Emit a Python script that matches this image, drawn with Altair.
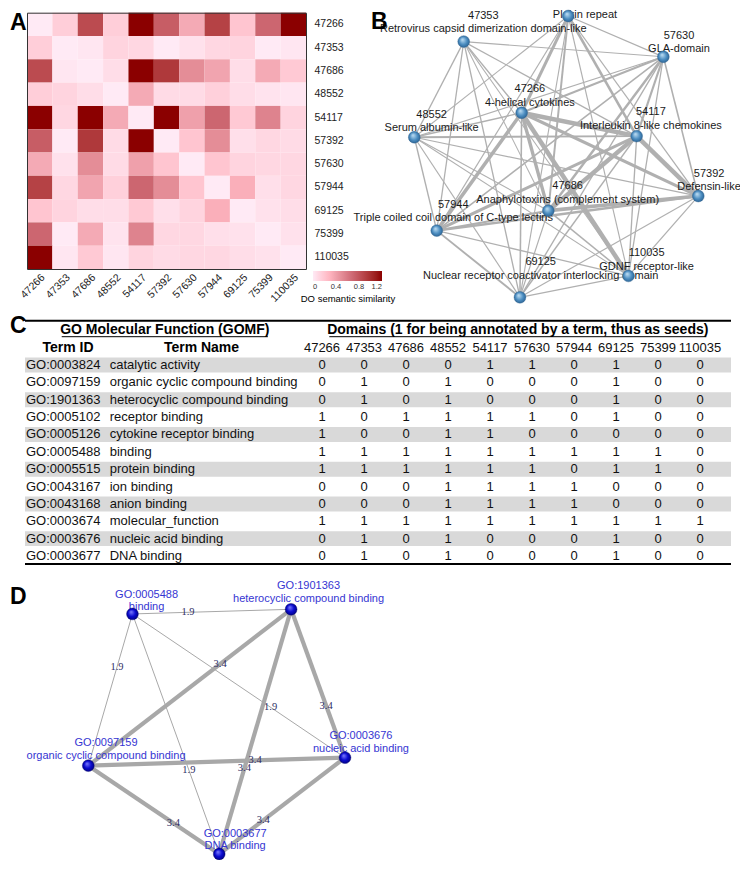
import altair as alt
import pandas as pd

W, H = 732, 852
SANS = "Liberation Sans"

# ---------------- Panel A / B : DO semantic similarity ----------------
domain_ids = ["47266", "47353", "47686", "48552", "54117", "57392",
              "57630", "57944", "69125", "75399", "110035"]
similarity = [
    [0.00, 0.15, 0.85, 0.15, 1.25, 0.75, 0.35, 0.90, 0.20, 0.70, 1.25],
    [0.15, 0.00, 0.02, 0.12, 0.10, 0.00, 0.05, 0.10, 0.12, 0.00, 0.02],
    [0.85, 0.02, 0.00, 0.07, 1.25, 0.95, 0.50, 0.38, 0.07, 0.35, 0.18],
    [0.15, 0.12, 0.07, 0.00, 0.35, 0.08, 0.08, 0.14, 0.07, 0.04, 0.02],
    [1.25, 0.10, 1.25, 0.35, 0.00, 1.25, 0.40, 0.70, 0.18, 0.55, 0.12],
    [0.75, 0.00, 0.95, 0.08, 1.25, 0.00, 0.20, 0.50, 0.06, 0.10, 0.08],
    [0.35, 0.05, 0.50, 0.08, 0.40, 0.20, 0.00, 0.20, 0.12, 0.10, 0.10],
    [0.90, 0.10, 0.38, 0.14, 0.70, 0.50, 0.20, 0.00, 0.32, 0.06, 0.10],
    [0.20, 0.12, 0.07, 0.07, 0.18, 0.06, 0.12, 0.32, 0.00, 0.05, 0.07],
    [0.70, 0.00, 0.35, 0.04, 0.55, 0.10, 0.10, 0.06, 0.05, 0.00, 0.05],
    [1.25, 0.02, 0.18, 0.02, 0.12, 0.08, 0.10, 0.10, 0.07, 0.05, 0.00],
]
domain_names = ["4-helical cytokines", "Retrovirus capsid dimerization domain-like",
                "Anaphylotoxins (complement system)", "Serum albumin-like",
                "Interleukin 8-like chemokines", "Defensin-like", "GLA-domain",
                "Triple coiled coil domain of C-type lectins",
                "Nuclear receptor coactivator interlocking domain", "Plakin repeat",
                "GDNF receptor-like"]
# normalised network layout (0..1) for panel B
b_node_x = [0.378, 0.174, 0.472, 0.000, 0.783, 1.000, 0.877, 0.079, 0.372, 0.542, 0.754]
b_node_y = [0.344, 0.091, 0.692, 0.431, 0.427, 0.640, 0.145, 0.763, 1.000, 0.000, 0.924]
b_label_x = [0.407, 0.243, 0.540, 0.061, 0.833, 1.038, 0.932, 0.137, 0.445, 0.601, 0.818]
b_label_y = [0.308, 0.047, 0.654, 0.399, 0.391, 0.609, 0.118, 0.719, 0.924, -0.005, 0.891]

# ---------------- Panel C : GOMF annotation table ----------------
table_domains = ["47266", "47353", "47686", "48552", "54117",
                 "57630", "57944", "69125", "75399", "110035"]
term_ids = ["GO:0003824", "GO:0097159", "GO:1901363", "GO:0005102", "GO:0005126",
            "GO:0005488", "GO:0005515", "GO:0043167", "GO:0043168", "GO:0003674",
            "GO:0003676", "GO:0003677"]
term_names = ["catalytic activity", "organic cyclic compound binding",
              "heterocyclic compound binding", "receptor binding",
              "cytokine receptor binding", "binding", "protein binding", "ion binding",
              "anion binding", "molecular_function", "nucleic acid binding", "DNA binding"]
annotated = [
    [0, 0, 0, 0, 1, 1, 0, 1, 0, 0],
    [0, 1, 0, 1, 0, 0, 0, 1, 0, 0],
    [0, 1, 0, 1, 0, 0, 0, 1, 0, 0],
    [1, 0, 1, 1, 1, 1, 0, 1, 0, 0],
    [1, 0, 0, 1, 1, 0, 0, 0, 0, 0],
    [1, 1, 1, 1, 1, 1, 1, 1, 1, 0],
    [1, 1, 1, 1, 1, 1, 0, 1, 1, 0],
    [0, 0, 0, 1, 1, 1, 1, 0, 0, 0],
    [0, 0, 0, 1, 1, 1, 1, 0, 0, 0],
    [1, 1, 1, 1, 1, 1, 1, 1, 1, 1],
    [0, 1, 0, 1, 0, 0, 0, 1, 0, 0],
    [0, 1, 0, 1, 0, 0, 0, 1, 0, 0],
]
header_text = ["GO Molecular Function (GOMF)",
               "Domains (1 for being annotated by a term, thus as seeds)",
               "Term ID", "Term Name"]
header_x = [0.198, 0.698, 0.061, 0.250]
header_row = [-2, -2, -1, -1]

# ---------------- Panel D : term network ----------------
d_terms = ["GO:0005488", "GO:1901363", "GO:0097159", "GO:0003676", "GO:0003677"]
d_names = ["binding", "heterocyclic compound binding", "organic cyclic compound binding",
           "nucleic acid binding", "DNA binding"]
d_node_x = [0.172, 0.790, 0.000, 1.000, 0.510]
d_node_y = [0.019, 0.000, 0.639, 0.606, 1.000]
d_label_x = [0.227, 0.858, 0.069, 1.062, 0.572]
d_label_y = [-0.008, -0.043, 0.598, 0.570, 0.968]
d_edge_source = ["GO:0005488", "GO:0005488", "GO:0003677", "GO:0003676", "GO:1901363",
                 "GO:0003677", "GO:0003676", "GO:0003676", "GO:0003677", "GO:0003677"]
d_edge_target = ["GO:1901363", "GO:0097159", "GO:0005488", "GO:0005488", "GO:0097159",
                 "GO:1901363", "GO:1901363", "GO:0097159", "GO:0097159", "GO:0003676"]
d_edge_weight = [1.9, 1.9, 1.9, 1.9, 3.4, 3.4, 3.4, 3.4, 3.4, 3.4]

panel_letters = ["A", "B", "C", "D"]


# ---------------- helpers ----------------
def lin(domain, rng):
    return alt.Scale(type="linear", domain=domain, range=rng, nice=False, zero=False)


BX, BY = lin([0, 1], [406.3, 690.3]), lin([0, 1], [8, 289.3])
TX, TY = lin([0, 1], [17, 723]), lin([0, 11], [357, 548])
DX, DY = lin([0, 1], [80.3, 337]), lin([0, 1], [601.3, 846])
PX, PY = lin([0, 748], [-8, 740]), lin([0, 876], [-8, 868])

# ---------------- dataframes ----------------
n = len(domain_ids)
heat_df = pd.DataFrame([{"row": domain_ids[i], "col": domain_ids[j], "value": similarity[i][j]}
                        for i in range(n) for j in range(n)])
b_nodes = pd.DataFrame({"id": domain_ids, "name": domain_names, "x": b_node_x, "y": b_node_y,
                        "lx": b_label_x, "ly": b_label_y})
b_edges = pd.DataFrame([{"x": b_node_x[i], "y": b_node_y[i], "x2": b_node_x[j],
                         "y2": b_node_y[j], "w": similarity[i][j]}
                        for i in range(n) for j in range(i + 1, n) if similarity[i][j] > 0])

t_rows = pd.DataFrame({"row": list(range(len(term_ids))), "tid": term_ids, "tname": term_names})
t_bands = t_rows[t_rows["row"] % 2 == 0].copy()
t_bands["y1"] = t_bands["row"] - 0.43
t_bands["y2"] = t_bands["row"] + 0.43
t_bands["x1"] = 0.0
t_bands["x2"] = 1.0
t_vals = pd.DataFrame([{"row": r, "dom": table_domains[c], "v": str(annotated[r][c])}
                       for r in range(len(term_ids)) for c in range(len(table_domains))])
t_cols = pd.DataFrame({"dom": table_domains, "row": -1})
t_head = pd.DataFrame({"text": header_text, "x": header_x, "row": header_row})
t_lines = pd.DataFrame({"x1": [0, 0, 0.052, 0.431], "x2": [1, 1, 0.344, 0.965],
                        "row": [-2.55, 11.46, -1.63, -1.63], "w": [2, 2, 1, 1]})

d_nodes = pd.DataFrame({"id": d_terms, "name": d_names, "x": d_node_x, "y": d_node_y,
                        "lx": d_label_x, "ly": d_label_y})
pos = {t: (d_node_x[k], d_node_y[k]) for k, t in enumerate(d_terms)}
d_edges = pd.DataFrame({"s": d_edge_source, "t": d_edge_target, "w": d_edge_weight})
d_edges["x"] = [pos[s][0] for s in d_edges["s"]]
d_edges["y"] = [pos[s][1] for s in d_edges["s"]]
d_edges["x2"] = [pos[t][0] for t in d_edges["t"]]
d_edges["y2"] = [pos[t][1] for t in d_edges["t"]]

letters_df = pd.DataFrame({"t": panel_letters, "x": [10, 371, 10, 10], "y": [23, 22, 326, 597]})

# ---------------- Panel A ----------------
heat_color = alt.Scale(domain=[0, 0.35, 0.7, 1.2],
                       range=["#ffffff", "#f4aab5", "#cc6670", "#8b0000"], clamp=True)
heat = alt.Chart(heat_df).mark_rect().encode(
    x=alt.X("col:N", scale=alt.Scale(type="band", domain=domain_ids, range=[19, 298],
                                     paddingInner=0, paddingOuter=0),
            axis=alt.Axis(orient="bottom", offset=261 - H, title=None, ticks=False,
                          labelAngle=-45, labelAlign="right", labelBaseline="top",
                          labelPadding=3, labelFontSize=10.5, labelFont=SANS,
                          labelColor="#222222", domainColor="#333333", grid=False,
                          labelOverlap=False)),
    y=alt.Y("row:N", scale=alt.Scale(type="band", domain=domain_ids, range=[4.7, 261],
                                     paddingInner=0, paddingOuter=0),
            axis=alt.Axis(orient="right", offset=298 - W, title=None, ticks=False,
                          labelPadding=8, labelFontSize=10.5, labelFont=SANS,
                          labelColor="#222222", domainColor="#333333", grid=False,
                          labelOverlap=False)),
    color=alt.Color("value:Q", scale=heat_color,
                    legend=alt.Legend(orient="none", legendX=293, legendY=263,
                                      direction="horizontal", gradientLength=69,
                                      gradientThickness=10, values=[0, 0.4, 0.8, 1.2],
                                      format=".1~f",
                                      labelFontSize=7.5, labelFont=SANS, labelColor="#333333",
                                      title="DO semantic similarity", titleOrient="bottom",
                                      titleFontSize=9.5, titleFont=SANS,
                                      titleFontWeight="normal", titleAnchor="middle",
                                      titlePadding=3, gradientStrokeWidth=0)),
)
frame = alt.Chart(heat_df).mark_rect(opacity=0).encode(
    x=alt.X("col:N", scale=alt.Scale(type="band", domain=domain_ids, range=[19, 298],
                                     paddingInner=0, paddingOuter=0),
            axis=alt.Axis(orient="top", offset=-4.7, title=None, ticks=False, labels=False,
                          domainColor="#333333", grid=False)),
    y=alt.Y("row:N", scale=alt.Scale(type="band", domain=domain_ids, range=[4.7, 261],
                                     paddingInner=0, paddingOuter=0),
            axis=alt.Axis(orient="left", offset=-19, title=None, ticks=False, labels=False,
                          domainColor="#333333", grid=False)),
)

# ---------------- Panel B ----------------
blue_sphere = alt.RadialGradient(
    gradient="radial", x1=0.38, y1=0.32, r1=0, x2=0.5, y2=0.5, r2=0.55,
    stops=[alt.GradientStop(offset=0, color="#c4e2f6"),
           alt.GradientStop(offset=0.6, color="#4a8cc0"),
           alt.GradientStop(offset=1, color="#2a5f8e")])
b_edge_layer = alt.Chart(b_edges).mark_rule(color="#b0b0b0").encode(
    x=alt.X("x:Q", scale=BX, axis=None), y=alt.Y("y:Q", scale=BY, axis=None),
    x2="x2:Q", y2="y2:Q",
    strokeWidth=alt.StrokeWidth("w:Q", scale=alt.Scale(domain=[0, 1.25], range=[1.0, 4.5]),
                                legend=None))
b_name_layer = alt.Chart(b_nodes).mark_text(font=SANS, fontSize=11, color="#1a1a1a",
                                            baseline="middle", align="center").encode(
    x=alt.X("lx:Q", scale=BX, axis=None), y=alt.Y("ly:Q", scale=BY, axis=None), text="name:N")
# the id line of a label lying on the panel's top edge falls outside the figure
b_id_layer = alt.Chart(b_nodes).transform_filter("datum.ly > 0.02").mark_text(
    font=SANS, fontSize=11, color="#1a1a1a", baseline="middle", align="center",
    dy=-13.5).encode(
    x=alt.X("lx:Q", scale=BX, axis=None), y=alt.Y("ly:Q", scale=BY, axis=None), text="id:N")
b_node_layer = alt.Chart(b_nodes).mark_circle(fill=blue_sphere, opacity=1, size=140,
                                              stroke="#2a5f8e", strokeWidth=0.4).encode(
    x=alt.X("x:Q", scale=BX, axis=None), y=alt.Y("y:Q", scale=BY, axis=None))

# ---------------- Panel C ----------------
c_bands = alt.Chart(t_bands).mark_rect(color="#d9d9d9").encode(
    x=alt.X("x1:Q", scale=TX, axis=None), x2="x2:Q",
    y=alt.Y("y1:Q", scale=TY, axis=None), y2="y2:Q")
c_lines = alt.Chart(t_lines).mark_rule(color="#000000").encode(
    x=alt.X("x1:Q", scale=TX, axis=None), x2="x2:Q",
    y=alt.Y("row:Q", scale=TY, axis=None),
    strokeWidth=alt.StrokeWidth("w:Q", scale=None, legend=None))
c_head = alt.Chart(t_head).mark_text(font=SANS, fontSize=14, fontWeight="bold",
                                     baseline="middle", align="center", color="#000000").encode(
    x=alt.X("x:Q", scale=TX, axis=None), y=alt.Y("row:Q", scale=TY, axis=None), text="text:N")
c_tid = alt.Chart(t_rows).mark_text(font=SANS, fontSize=13, baseline="middle", align="left",
                                    color="#111111").encode(
    x=alt.datum(0.0014, scale=TX, axis=None), y=alt.Y("row:Q", scale=TY, axis=None),
    text="tid:N")
c_tname = alt.Chart(t_rows).mark_text(font=SANS, fontSize=13, baseline="middle", align="left",
                                      color="#111111").encode(
    x=alt.datum(0.12, scale=TX, axis=None), y=alt.Y("row:Q", scale=TY, axis=None),
    text="tname:N")
COLX = alt.Scale(type="point", domain=table_domains, range=[314, 692], padding=0)
c_cols = alt.Chart(t_cols).mark_text(font=SANS, fontSize=13, baseline="middle",
                                     align="center", color="#111111").encode(
    x=alt.X("dom:N", scale=COLX, axis=None), y=alt.Y("row:Q", scale=TY, axis=None),
    text="dom:N")
c_vals = alt.Chart(t_vals).mark_text(font=SANS, fontSize=13, baseline="middle",
                                     align="center", color="#111111").encode(
    x=alt.X("dom:N", scale=COLX, axis=None), y=alt.Y("row:Q", scale=TY, axis=None),
    text="v:N")

# ---------------- Panel D ----------------
dark_sphere = alt.RadialGradient(
    gradient="radial", x1=0.38, y1=0.32, r1=0, x2=0.5, y2=0.5, r2=0.55,
    stops=[alt.GradientStop(offset=0, color="#7f7fff"),
           alt.GradientStop(offset=0.55, color="#0a0ad0"),
           alt.GradientStop(offset=1, color="#00007a")])
d_edge_layer = alt.Chart(d_edges).mark_rule(color="#a8a8a8").encode(
    x=alt.X("x:Q", scale=DX, axis=None), y=alt.Y("y:Q", scale=DY, axis=None),
    x2="x2:Q", y2="y2:Q",
    strokeWidth=alt.StrokeWidth("w:Q", scale=alt.Scale(domain=[1.9, 3.4], range=[1, 4.2]),
                                legend=None))
d_edge_text = alt.Chart(d_edges).transform_calculate(
    mx="datum.x + 0.35 * (datum.x2 - datum.x)",
    my="datum.y + 0.35 * (datum.y2 - datum.y)",
    lab="format(datum.w, '.1f')",
).mark_text(font="Liberation Serif", fontSize=10.5, color="#2e2e66",
            baseline="middle", align="center").encode(
    x=alt.X("mx:Q", scale=DX, axis=None), y=alt.Y("my:Q", scale=DY, axis=None), text="lab:N")
d_name_layer = alt.Chart(d_nodes).mark_text(font=SANS, fontSize=11, color="#3535d2",
                                            baseline="middle", align="center").encode(
    x=alt.X("lx:Q", scale=DX, axis=None), y=alt.Y("ly:Q", scale=DY, axis=None), text="name:N")
d_id_layer = alt.Chart(d_nodes).mark_text(font=SANS, fontSize=11, color="#3535d2",
                                          baseline="middle", align="center", dy=-12.5).encode(
    x=alt.X("lx:Q", scale=DX, axis=None), y=alt.Y("ly:Q", scale=DY, axis=None), text="id:N")
d_node_layer = alt.Chart(d_nodes).mark_circle(fill=dark_sphere, opacity=1, size=140,
                                              stroke="#00006a", strokeWidth=0.4).encode(
    x=alt.X("x:Q", scale=DX, axis=None), y=alt.Y("y:Q", scale=DY, axis=None))

# ---------------- panel letters ----------------
letters = alt.Chart(letters_df).mark_text(font=SANS, fontSize=23, fontWeight="bold",
                                          baseline="middle", align="left",
                                          color="#000000").encode(
    x=alt.X("x:Q", scale=PX, axis=None), y=alt.Y("y:Q", scale=PY, axis=None), text="t:N")

chart = alt.layer(
    heat, frame,
    b_edge_layer, b_name_layer, b_id_layer, b_node_layer,
    c_bands, c_lines, c_head, c_tid, c_tname, c_cols, c_vals,
    d_edge_layer, d_edge_text, d_name_layer, d_id_layer, d_node_layer,
    letters,
).resolve_scale(
    x="independent", y="independent", color="independent", strokeWidth="independent"
).properties(
    width=W, height=H, autosize=alt.AutoSizeParams(type="none"), padding=0,
    background="#ffffff",
).configure_view(stroke=None)

chart.save("out.html", embed_options={"renderer": "svg", "actions": False})
